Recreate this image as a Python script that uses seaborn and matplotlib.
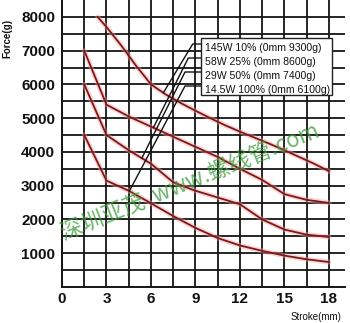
import numpy as np
import pandas as pd
import matplotlib
matplotlib.use("Agg")
import matplotlib.pyplot as plt
import seaborn as sns

sns.set_theme(style="white")
plt.rcParams['font.family'] = ['Liberation Sans', 'DejaVu Sans']

# Force vs. stroke for each duty rating
stroke_145w = [2.4, 3, 4, 5, 6, 7, 8, 9, 10, 11, 12, 13, 14, 15, 16, 17, 18]
force_145w = [8000, 7700, 7150, 6550, 6000, 5700, 5450, 5220, 5000, 4790, 4600, 4420, 4240, 4050, 3850, 3650, 3430]

stroke_58w = [1.5, 3, 4.5, 6, 7.5, 9, 10.5, 12, 13.5, 15, 16.5, 18]
force_58w = [7000, 5400, 5050, 4750, 4450, 4150, 3850, 3500, 3170, 2750, 2580, 2490]

stroke_29w = [1.5, 3, 4.5, 6, 7.5, 9, 10.5, 12, 13.5, 15, 16.5, 18]
force_29w = [6000, 4500, 4050, 3650, 3100, 2850, 2650, 2450, 2000, 1700, 1550, 1480]

stroke_14w = [1.5, 3, 4.5, 6, 7.5, 9, 10.5, 12, 13.5, 15, 16.5, 18]
force_14w = [4500, 3150, 2850, 2480, 2100, 1750, 1450, 1230, 1070, 930, 820, 740]

series_labels = ["145W 10% (0mm 9300g)", "58W 25% (0mm 8600g)",
                 "29W 50% (0mm 7400g)", "14.5W 100% (0mm 6100g)"]
# stroke position on each curve that its legend leader points at
leader_stroke = [6.83, 6.16, 5.38, 4.54]

x_ticks = [0, 3, 6, 9, 12, 15, 18]
y_ticks = [1000, 2000, 3000, 4000, 5000, 6000, 7000, 8000]

curves = [(stroke_145w, force_145w), (stroke_58w, force_58w),
          (stroke_29w, force_29w), (stroke_14w, force_14w)]
df = pd.concat([pd.DataFrame({"stroke": s, "force": f, "series": lab})
                for (s, f), lab in zip(curves, series_labels)], ignore_index=True)

W, H = 350, 323
fig = plt.figure(figsize=(W / 100, H / 100), dpi=100)
ax = fig.add_axes([62 / W, 36 / H, (345 - 62) / W, 287 / H])
ax.set_xlim(0, 19.08)
ax.set_ylim(0, 8500)

# grid every 1.5 mm and 500 g
ax.set_xticks(x_ticks)
ax.set_xticks(np.arange(1.5, 19, 3), minor=True)
ax.set_yticks(y_ticks)
ax.set_yticks(np.arange(500, 8500, 1000), minor=True)
ax.grid(True, which="both", color="#151515", lw=1.3)
ax.set_axisbelow(True)
for side in ["top", "right"]:
    ax.spines[side].set_visible(False)
for side in ["left", "bottom"]:
    ax.spines[side].set_color("#151515")
    ax.spines[side].set_linewidth(1.4)

# pink halo under the dark red curves
sns.lineplot(data=df, x="stroke", y="force", hue="series", palette=["#f2a0a0"] * 4,
             legend=False, sort=False, lw=3.6, alpha=0.45, ax=ax)
sns.lineplot(data=df, x="stroke", y="force", hue="series", palette=["#7e1818"] * 4,
             legend=False, sort=False, lw=1.3, ax=ax)

ax.set_xlabel("")
ax.set_ylabel("")
ax.tick_params(axis="both", which="both", length=0, labelsize=11)
ax.tick_params(axis="y", pad=5)
ax.tick_params(axis="x", pad=3.5)
for lab in ax.get_xticklabels() + ax.get_yticklabels():
    lab.set_fontweight("bold")
    lab.set_color("#111111")

# legend box with leader lines
def ax_px(px, py):
    return (px - 62) / 283, (287 - py) / 287

bx0, by0 = ax_px(201, 38)
bx1, by1 = ax_px(332, 95)
ax.add_patch(plt.Rectangle((bx0, by1), bx1 - bx0, by0 - by1, transform=ax.transAxes,
                           fc="white", ec="#222222", lw=1.0, zorder=5))
row_px = [48, 62, 76, 90]
knee_px = [(192.7, 44), (188.3, 58), (185, 72), (185, 86)]
for i, lab in enumerate(series_labels):
    tx, ty = ax_px(205, row_px[i])
    ax.text(tx, ty, lab, transform=ax.transAxes, fontsize=7.6, va="center", ha="left",
            color="#111111", zorder=6)
    kx, ky = ax_px(*knee_px[i])
    s, f = curves[i]
    ex = leader_stroke[i] / 19.08
    ey = np.interp(leader_stroke[i], s, f) / 8500
    ax.plot([bx0, kx, ex], [ky, ky, ey], transform=ax.transAxes, color="#111111",
            lw=1.0, zorder=4)

fig.text(7 / W, 1 - 38 / H, "Force(g)", rotation=90, fontsize=7, fontweight="bold",
         ha="center", va="center", color="#111111")
fig.text(316 / W, 1 - 317 / H, "Stroke(mm)", fontsize=7, ha="center", va="center",
         color="#111111")

fig.text(190 / W, 1 - 182 / H, "深圳亚茂  www.螺线管.com", rotation=22, fontsize=16,
         color="#3a9e3a", alpha=0.75, ha="center", va="center",
         family=["Noto Sans CJK SC", "DejaVu Sans"], zorder=10)

fig.savefig("out.png", dpi=100, facecolor="white")
